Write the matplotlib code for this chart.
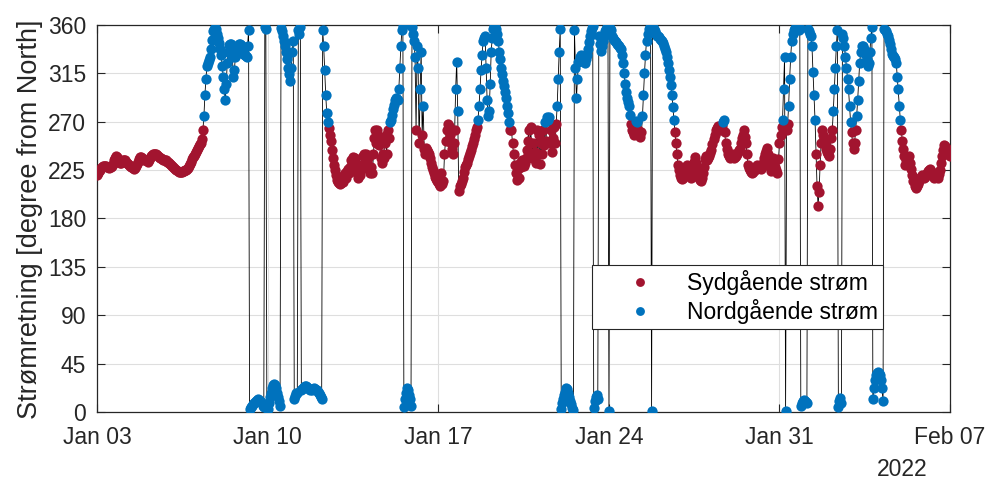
import numpy as np
import pandas as pd
import matplotlib
matplotlib.use("Agg")
import matplotlib.pyplot as plt
import matplotlib.dates as mdates

plt.rcParams["font.family"] = ["Liberation Sans", "DejaVu Sans"]

# --- Current direction [deg from North], hourly values ---
jan03 = [220, 222, 224, 225, 227, 228, 229, 229, 229, 229, 228, 228,
         227, 228, 229, 231, 234, 236, 238, 237, 235, 233, 232, 232]
jan04 = [233, 234, 234, 234, 233, 232, 231, 230, 229, 228, 228, 227,
         226, 227, 229, 231, 233, 235, 237, 237, 236, 235, 234, 234]
jan05 = [234, 234, 233, 234, 236, 238, 239, 240, 240, 240, 240, 239,
         238, 237, 236, 236, 235, 234, 234, 234, 234, 233, 233, 232]
jan06 = [231, 230, 229, 228, 227, 226, 225, 224, 223, 223, 223, 223,
         224, 224, 225, 225, 226, 227, 229, 231, 233, 235, 237, 238]
jan07 = [240, 242, 244, 246, 247, 249, 250, 254, 262, 275, 295, 310,
         322, 325, 327, 330, 338, 346, 354, 356, 357, 356, 352, 348]
jan08 = [343, 338, 332, 322, 312, 300, 290, 305, 325, 335, 341, 342,
         342, 330, 312, 318, 330, 335, 337, 340, 342, 342, 341, 338]
jan09 = [333, 332, 331, 330, 340, 355, 3, 5, 6, 7, 8, 9,
         10, 11, 12, 11, 10, 9, 8, 6, 5, 358, 356, 4]
jan10 = [3, 8, 14, 18, 22, 25, 26, 25, 22, 18, 14, 10,
         6, 357, 354, 350, 345, 340, 335, 328, 320, 314, 308, 320]
jan11 = [335, 345, 12, 15, 18, 18, 355, 352, 358, 20, 21, 22,
         23, 24, 24, 23, 22, 21, 20, 20, 21, 22, 21, 20]
jan12 = [20, 19, 18, 16, 14, 12, 355, 340, 318, 295, 278, 270,
         264, 258, 252, 244, 236, 230, 225, 220, 216, 214, 213, 212]
jan13 = [213, 218, 214, 220, 222, 218, 224, 226, 222, 228, 234, 230,
         237, 232, 236, 226, 222, 218, 224, 220, 230, 226, 238, 240]
jan14 = [236, 240, 232, 236, 226, 222, 228, 222, 240, 255, 262, 250,
         262, 248, 256, 236, 232, 240, 236, 250, 258, 240, 262, 255]
jan15 = [270, 272, 276, 282, 286, 290, 292, 291, 290, 300, 320, 340,
         355, 359, 5, 12, 18, 22, 20, 16, 12, 6, 358, 352]
jan16 = [345, 330, 262, 340, 320, 250, 300, 335, 258, 285, 245, 240,
         246, 244, 242, 240, 236, 232, 228, 225, 222, 219, 217, 215]
jan17 = [214, 212, 210, 222, 212, 215, 240, 252, 262, 268, 266, 258,
         250, 245, 240, 250, 262, 300, 326, 280, 206, 210, 212, 215]
jan18 = [218, 223, 228, 230, 232, 235, 238, 241, 244, 247, 250, 254,
         258, 262, 265, 272, 285, 300, 318, 332, 345, 348, 350, 320]
jan19 = [290, 275, 280, 305, 335, 348, 356, 359, 358, 356, 352, 345,
         335, 328, 320, 314, 308, 303, 298, 292, 285, 278, 270, 262]
jan20 = [262, 250, 240, 230, 222, 216, 226, 218, 232, 228, 234, 230,
         229, 232, 236, 244, 252, 262, 240, 265, 236, 250, 238, 242]
jan21 = [232, 262, 240, 258, 231, 250, 240, 262, 248, 270, 252, 274,
         272, 274, 250, 262, 242, 255, 265, 250, 268, 285, 310, 335]
jan22 = [356, 3, 8, 12, 16, 19, 22, 21, 18, 14, 10, 7,
         4, 2, 355, 320, 292, 310, 326, 330, 332, 330, 328, 326]
jan23 = [325, 328, 332, 338, 344, 350, 354, 357, 359, 4, 10, 14,
         16, 12, 350, 342, 336, 340, 345, 350, 354, 356, 358, 359]
jan24 = [1, 357, 355, 350, 348, 346, 345, 344, 342, 341, 340, 339,
         338, 332, 325, 315, 305, 298, 292, 288, 285, 276, 268, 262]
jan25 = [260, 258, 266, 271, 270, 262, 258, 256, 260, 275, 295, 315,
         332, 345, 352, 356, 358, 359, 1, 358, 356, 354, 352, 350]
jan26 = [350, 349, 347, 346, 345, 343, 340, 338, 335, 330, 325, 318,
         312, 304, 295, 284, 272, 260, 250, 240, 230, 225, 220, 218]
jan27 = [217, 218, 220, 222, 226, 230, 228, 226, 222, 218, 222, 228,
         233, 237, 232, 228, 223, 218, 216, 215, 218, 222, 228, 235]
jan28 = [238, 234, 236, 238, 241, 244, 249, 254, 258, 262, 264, 266,
         264, 262, 264, 266, 270, 272, 260, 250, 245, 240, 238, 236]
jan29 = [238, 240, 238, 236, 237, 238, 240, 242, 244, 245, 250, 255,
         258, 262, 256, 250, 240, 230, 227, 225, 223, 222, 223, 225]
jan30 = [225, 228, 230, 229, 228, 227, 226, 229, 232, 236, 240, 243,
         246, 240, 232, 228, 224, 230, 236, 232, 228, 225, 222, 235]
jan31 = [250, 258, 265, 272, 300, 330, 1, 262, 268, 285, 310, 330,
         345, 352, 355, 357, 358, 358, 357, 355, 357, 6, 8, 10]
feb01 = [11, 10, 9, 8, 356, 354, 352, 350, 340, 316, 295, 272,
         240, 210, 192, 205, 230, 250, 262, 258, 255, 250, 245, 242]
feb02 = [240, 238, 245, 255, 262, 280, 300, 320, 340, 355, 5, 10,
         13, 8, 352, 348, 340, 330, 320, 310, 300, 285, 270, 260]
feb03 = [250, 245, 250, 262, 275, 290, 308, 325, 335, 340, 340, 338,
         335, 332, 328, 322, 325, 335, 348, 358, 12, 22, 30, 34]
feb04 = [36, 37, 36, 34, 30, 22, 10, 356, 355, 354, 352, 350,
         346, 342, 338, 333, 331, 330, 328, 325, 312, 300, 285, 272]
feb05 = [262, 252, 245, 238, 230, 234, 236, 237, 238, 232, 226, 220,
         215, 210, 208, 210, 212, 215, 218, 219, 220, 219, 218, 219]
feb06 = [220, 222, 224, 225, 226, 224, 222, 220, 218, 219, 220, 219,
         218, 221, 225, 232, 238, 244, 248, 247, 246, 244, 242, 240]
feb07 = [238]

days = [jan03, jan04, jan05, jan06, jan07, jan08, jan09, jan10, jan11, jan12,
        jan13, jan14, jan15, jan16, jan17, jan18, jan19, jan20, jan21, jan22,
        jan23, jan24, jan25, jan26, jan27, jan28, jan29, jan30, jan31, feb01,
        feb02, feb03, feb04, feb05, feb06, feb07]

tick_dates = ["2022-01-03", "2022-01-10", "2022-01-17", "2022-01-24",
              "2022-01-31", "2022-02-07"]

# time stamps: each day's readings spread over that day
start = pd.Timestamp("2022-01-03")
time = []
for i, vals in enumerate(days):
    step = pd.Timedelta(hours=24) / len(vals)
    time += [start + pd.Timedelta(days=i) + k * step for k in range(len(vals))]
time = pd.DatetimeIndex(time)
direction = np.concatenate(days).astype(float)

# northward = 270..360 or 0..90, southward otherwise
north = (direction >= 270) | (direction < 90)
south = ~north

red = "#A2142F"
blue = "#0072BD"
txt = "#262626"

fig = plt.figure(figsize=(9.92, 4.83), dpi=100)
ax = fig.add_axes([0.0981, 0.147, 0.8596, 0.8013])

ax.plot(time, direction, color="k", lw=0.6, zorder=2)
ax.plot(time[south], direction[south], "o", color=red, ms=7.4, mew=0,
        zorder=3, label="Sydgående strøm")
ax.plot(time[north], direction[north], "o", color=blue, ms=7.4, mew=0,
        zorder=4, label="Nordgående strøm")

ax.set_xlim(pd.Timestamp("2022-01-03"), pd.Timestamp("2022-02-07"))
ax.set_ylim(0, 360)
ax.set_yticks(np.arange(0, 361, 45))
ax.set_xticks(pd.to_datetime(tick_dates))
ax.xaxis.set_major_formatter(mdates.DateFormatter("%b %d"))

ax.grid(True, color="#dedede", lw=0.8, zorder=0)
ax.set_axisbelow(True)
ax.tick_params(direction="in", length=6, width=0.8, colors=txt, labelsize=16.5,
               top=True, right=True)
ax.tick_params(axis="x", pad=10)
ax.tick_params(axis="y", pad=8)
for s in ax.spines.values():
    s.set_color(txt)
    s.set_linewidth(0.9)

ax.set_ylabel("Strømretning [degree from North]", fontsize=19.5, color=txt)
ax.yaxis.set_label_coords(-0.064, 0.499)
fig.text(0.909, 0.028, "2022", fontsize=16.5, color=txt, ha="center", va="center")

leg = ax.legend(loc="upper right", bbox_to_anchor=(0.921, 0.381), fontsize=16.5,
                frameon=True, fancybox=False, edgecolor=txt, framealpha=1,
                borderpad=0.22, handlelength=3.67, handletextpad=0.22,
                labelspacing=0.2, borderaxespad=0, markerscale=0.86)
leg.get_frame().set_linewidth(0.8)
for t in leg.get_texts():
    t.set_color("k")

fig.savefig("out.png", dpi=100)
